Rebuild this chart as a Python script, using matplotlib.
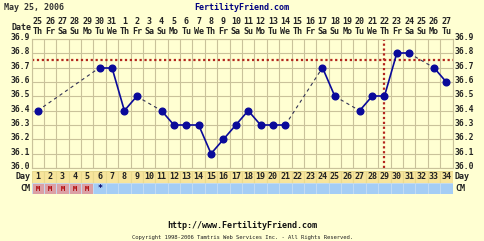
import matplotlib
matplotlib.use("Agg")
import matplotlib.pyplot as plt
from matplotlib.patches import Rectangle
from matplotlib.transforms import blended_transform_factory

# chart data
chart_date = 'May 25, 2006'
dates = ['25', '26', '27', '28', '29', '30', '31', '1', '2', '3', '4', '5', '6', '7', '8', '9', '10',
         '11', '12', '13', '14', '15', '16', '17', '18', '19', '20', '21', '22', '23', '24', '25', '26', '27']
weekdays = ['Th', 'Fr', 'Sa', 'Su', 'Mo', 'Tu', 'We'] * 5
weekdays = weekdays[:34]
temp_days = [1, 6, 7, 8, 9, 11, 12, 13, 14, 15, 16, 17, 18, 19, 20, 21, 24, 25, 27, 28, 29, 30, 31, 33, 34]
temps = [36.4, 36.7, 36.7, 36.4, 36.5, 36.4, 36.3, 36.3, 36.3, 36.1, 36.2, 36.3, 36.4, 36.3, 36.3, 36.3,
         36.7, 36.5, 36.4, 36.5, 36.5, 36.8, 36.8, 36.7, 36.6]
y_ticks = [36.0, 36.1, 36.2, 36.3, 36.4, 36.5, 36.6, 36.7, 36.8, 36.9]
coverline = 36.75
ovulation_day = 29
cm_values = ['M', 'M', 'M', 'M', 'M', '*'] + [''] * 28

W, H = 484, 241
bg = '#FFFFD2'
grid_col = '#C9C29A'
mono = 'DejaVu Sans Mono'

fig = plt.figure(figsize=(W / 100, H / 100), dpi=100, facecolor=bg)

def fy(py):
    return 1 - py / H

# main temperature chart
x0, x1 = 31.5, 452.5
y_top, y_bot = 39, 168
ax = fig.add_axes([x0 / W, fy(y_bot), (x1 - x0) / W, (y_bot - y_top) / H])
ax.set_facecolor(bg)
ax.set_xlim(0.5, 34.5)
ax.set_ylim(36.0, 36.9)
for i in range(35):
    ax.axvline(i + 0.5, color=grid_col, lw=0.8, zorder=1)
for t in y_ticks:
    ax.axhline(t, color=grid_col, lw=0.8, zorder=1)
for s in ax.spines.values():
    s.set_color(grid_col)
    s.set_linewidth(0.8)
ax.set_xticks([])
ax.set_yticks([])

# coverline and ovulation line
ax.axhline(coverline, color='#B3261E', lw=1.6, ls=(0, (1, 1.2)), zorder=2)
ax.axvline(ovulation_day, color='#B3261E', lw=1.6, ls=(0, (1, 1.2)), zorder=2)

# temperature line: solid for consecutive days, dashed across gaps
for i in range(len(temp_days) - 1):
    xs = [temp_days[i], temp_days[i + 1]]
    ys = [temps[i], temps[i + 1]]
    if temp_days[i + 1] - temp_days[i] == 1:
        ax.plot(xs, ys, color='#0A0A9A', lw=1.2, zorder=3)
    else:
        ax.plot(xs, ys, color='#333355', lw=0.8, ls=(0, (3, 3)), zorder=3)
ax.plot(temp_days, temps, 'o', color='#0A0A9A', ms=4.8, zorder=4)

# axis labels on both sides
for t in y_ticks:
    ax.text(0.4, t + 0.01, '%.1f' % t, ha='right', va='center', fontsize=5.8,
            family=mono, weight='bold', color='#222222')
    ax.text(34.7, t + 0.01, '%.1f' % t, ha='left', va='center', fontsize=5.8,
            family=mono, weight='bold', color='#222222')

# date header
tr = blended_transform_factory(ax.transData, fig.transFigure)
for i in range(34):
    ax.text(i + 1, fy(22), dates[i], transform=tr, ha='center', va='center', fontsize=6,
            family=mono, weight='bold', color='#222222')
    ax.text(i + 1, fy(31), weekdays[i], transform=tr, ha='center', va='center', fontsize=6,
            family=mono, weight='bold', color='#222222')
fig.text(11 / W, fy(27), 'Date', ha='left', va='center', fontsize=6, family=mono,
         weight='bold', color='#222222')

# day and cm rows
ax2 = fig.add_axes([x0 / W, fy(194), (x1 - x0) / W, 23 / H])
ax2.set_xlim(0.5, 34.5)
ax2.set_ylim(0, 2)
ax2.axis('off')
for i in range(34):
    ax2.add_patch(Rectangle((i + 0.5, 1), 1, 1, facecolor='#F7E59C', edgecolor='#E8D98E', lw=0.8))
    ax2.text(i + 1, 1.5, str(i + 1), ha='center', va='center', fontsize=6, family=mono,
             weight='bold', color='#222222')
    if cm_values[i] == 'M':
        fc = '#DBA0A5'
    else:
        fc = '#A4CDF5'
    ax2.add_patch(Rectangle((i + 0.5, 0), 1, 0.95, facecolor=fc, edgecolor='#C4DDF5', lw=0.6))
    if cm_values[i] == 'M':
        ax2.text(i + 1, 0.47, 'M', ha='center', va='center', fontsize=5, family=mono,
                 weight='bold', color='#B00000')
    elif cm_values[i]:
        ax2.text(i + 1, 0.47, cm_values[i], ha='center', va='center', fontsize=6, family=mono,
                 weight='bold', color='#000066')
ax2.text(0.4, 1.5, 'Day', ha='right', va='center', fontsize=6, family=mono, weight='bold', color='#222222')
ax2.text(34.7, 1.5, 'Day', ha='left', va='center', fontsize=6, family=mono, weight='bold', color='#222222')
ax2.text(0.4, 0.47, 'CM', ha='right', va='center', fontsize=6, family=mono, weight='bold', color='#222222')
ax2.text(34.7, 0.47, 'CM', ha='left', va='center', fontsize=6, family=mono, weight='bold', color='#222222')

# titles and footer
fig.text(4 / W, fy(7), chart_date, ha='left', va='center', fontsize=6, family=mono,
         weight='bold', color='#333333')
fig.text(242 / W, fy(7), 'FertilityFriend.com', ha='center', va='center', fontsize=6,
         family=mono, weight='bold', color='#000080')
fig.text(242 / W, fy(226), 'http://www.FertilityFriend.com', ha='center', va='center',
         fontsize=6, family=mono, weight='bold', color='#111111')
fig.text(242 / W, fy(237), 'Copyright 1998-2006 Tamtris Web Services Inc. - All Rights Reserved.',
         ha='center', va='center', fontsize=4, family=mono, color='#222222')

fig.savefig('out.png', dpi=100, facecolor=bg)
